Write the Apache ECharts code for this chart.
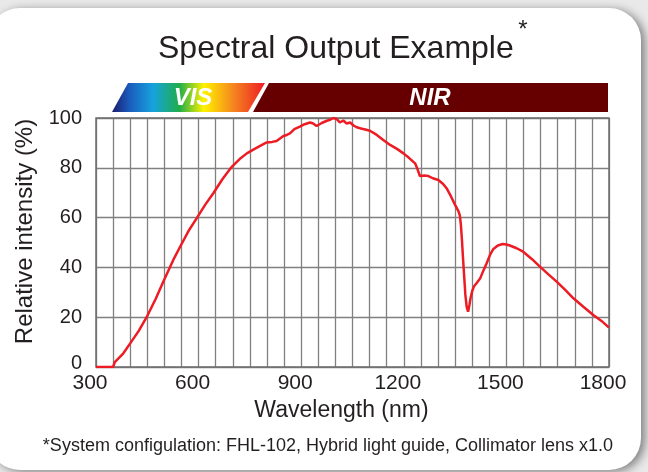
<!DOCTYPE html>
<html>
<head>
<meta charset="utf-8">
<script src="https://cdn.jsdelivr.net/npm/echarts@6/dist/echarts.min.js"></script>
<style>
    html, body { margin: 0; padding: 0; background: #e9e9e9; }
    #spectrumChart { width: 648px; height: 472px; }
</style>
</head>
<body>
<div id="spectrumChart"></div>
<script>
    // wavelength (nm) and relative intensity (%)
    var wavelength = [300, 350, 355, 380, 400, 425, 448, 475, 497, 526, 546, 570, 596, 620, 643, 670, 697, 720, 741, 760,
        780, 799, 815, 828, 840, 848, 858, 867, 880, 896, 910, 926, 935, 945, 960, 975, 985, 994, 1003, 1013,
        1023, 1033, 1043, 1053, 1062, 1075, 1090, 1101, 1121, 1140, 1160, 1180, 1199, 1215, 1233, 1240, 1247, 1260, 1272, 1285,
        1301, 1315, 1325, 1338, 1350, 1360, 1364, 1367, 1370, 1373, 1376, 1380, 1384, 1388, 1392, 1395, 1400, 1405, 1412, 1423,
        1432, 1442, 1452, 1462, 1475, 1489, 1500, 1510, 1530, 1549, 1575, 1598, 1622, 1647, 1672, 1696, 1725, 1754, 1778, 1800]
    var intensity = [0, 0, 2, 5.5, 9.5, 14.5, 20, 27.5, 34.3, 43, 48.3, 54.5, 60.1, 65.3, 69.8, 75.5, 80.4, 83.5, 85.8, 87.3,
        88.8, 90.2, 90.4, 90.8, 92, 92.8, 93.2, 93.8, 95.5, 96.5, 97.5, 98.2, 97.8, 96.8, 98, 98.9, 99.3, 100, 99.6, 98.2,
        99, 97.8, 98.2, 97, 96.3, 95.8, 95.3, 94.9, 93.2, 91.2, 89.2, 87.6, 85.8, 84, 81.8, 79.5, 76.7, 76.9, 76.7, 75.8,
        75.1, 73.5, 71.8, 68.5, 65.1, 62.5, 60.8, 57, 51, 44, 37.6, 29, 24, 22.2, 25, 27.5, 30.5, 32.3, 33.5, 35.5,
        38.5, 41.6, 45, 47.4, 48.8, 49.4, 49.2, 48.8, 47.7, 46.3, 43.3, 40.3, 37.3, 34.3, 31, 27.6, 24.2, 20.9, 18.5, 15.8]
    var xTickLabels = [300, 600, 900, 1200, 1500, 1800]
    var yTickLabels = [0, 20, 40, 60, 80, 100]
    var bandNames = ['VIS', 'NIR']

    var textColor = '#231f20'
    var fontName = '"Liberation Sans", Arial, sans-serif'

    var myChart = echarts.init(document.getElementById('spectrumChart'))
    myChart.setOption({
        backgroundColor: '#e9e9e9',
        animation: false,
        title: {
            text: 'Spectral Output Example',
            left: 158,
            top: 33,
            padding: 0,
            textStyle: { color: textColor, fontFamily: fontName, fontSize: 32, fontWeight: 'normal' }
        },
        grid: { left: 96, right: 39, top: 118, bottom: 105, show: true, borderColor: '#6e6e6e', borderWidth: 1.5, z: 3 },
        xAxis: {
            type: 'value',
            min: 300,
            max: 1800,
            interval: 50,
            name: 'Wavelength (nm)',
            nameLocation: 'middle',
            nameGap: 31,
            nameTextStyle: { color: textColor, fontFamily: fontName, fontSize: 23, padding: [0, 22, 0, 0] },
            axisLine: { show: false },
            axisTick: { show: false },
            axisLabel: {
                color: textColor, fontFamily: fontName, fontSize: 21, margin: 6, padding: [0, 12, 0, 0],
                formatter: function (v) { return xTickLabels.indexOf(v) >= 0 ? String(v) : '' }
            },
            splitLine: { show: true, lineStyle: { color: '#808080', width: 1.3 } }
        },
        yAxis: {
            type: 'value',
            min: 0,
            max: 100,
            interval: 20,
            name: 'Relative intensity (%)',
            nameLocation: 'middle',
            nameGap: 58,
            nameTextStyle: { color: textColor, fontFamily: fontName, fontSize: 24, padding: [0, 0, 0, 22] },
            axisLine: { show: false },
            axisTick: { show: false },
            axisLabel: {
                color: textColor, fontFamily: fontName, fontSize: 20, margin: 14,
                formatter: function (v) {
                    if (yTickLabels.indexOf(v) < 0) return ''
                    return v === 0 ? '{low|0}' : String(v)
                },
                rich: { low: { color: textColor, fontFamily: fontName, fontSize: 20, padding: [0, 0, 8, 0] } }
            },
            splitLine: { show: true, lineStyle: { color: '#808080', width: 1.3 } }
        },
        graphic: [
            {
                // white card
                type: 'rect', z: -10,
                shape: { x: -12, y: 8, width: 653, height: 462, r: 32 },
                style: { fill: '#ffffff', shadowBlur: 10, shadowColor: 'rgba(0,0,0,0.45)', shadowOffsetX: 4, shadowOffsetY: 2 }
            },
            {
                type: 'text', z: 5,
                style: { text: '*', x: 523, y: 30, align: 'center', verticalAlign: 'middle', fill: textColor, font: '24px ' + fontName }
            },
            {
                type: 'polygon', z: 5,
                shape: { points: [[112, 112], [128, 83], [265, 83], [248, 112]] },
                style: {
                    fill: new echarts.graphic.LinearGradient(0, 0, 1, 0, [
                        { offset: 0, color: '#1a1a6e' },
                        { offset: 0.12, color: '#1b5fbf' },
                        { offset: 0.27, color: '#16a3dd' },
                        { offset: 0.44, color: '#1fae4a' },
                        { offset: 0.6, color: '#fff200' },
                        { offset: 0.8, color: '#f58220' },
                        { offset: 1, color: '#ed1c24' }
                    ])
                }
            },
            {
                type: 'polygon', z: 5,
                shape: { points: [[253, 112], [269, 83], [608, 83], [608, 112]] },
                style: { fill: '#660000' }
            },
            {
                type: 'text', z: 6,
                style: { text: bandNames[0], x: 193, y: 98, align: 'center', verticalAlign: 'middle', fill: '#ffffff', font: 'italic bold 24px ' + fontName }
            },
            {
                type: 'text', z: 6,
                style: { text: bandNames[1], x: 430, y: 98, align: 'center', verticalAlign: 'middle', fill: '#ffffff', font: 'italic bold 24px ' + fontName }
            },
            {
                type: 'text', z: 5,
                style: {
                    text: '*System configulation: FHL-102, Hybrid light guide, Collimator lens x1.0',
                    x: 328, y: 446, align: 'center', verticalAlign: 'middle', fill: textColor, font: '18px ' + fontName
                }
            }
        ],
        series: [{
            type: 'line',
            data: wavelength.map(function (w, i) { return [w, intensity[i]] }),
            showSymbol: false,
            z: 4,
            lineStyle: { color: '#ed1c24', width: 2.5 }
        }]
    })
</script>
</body>
</html>
